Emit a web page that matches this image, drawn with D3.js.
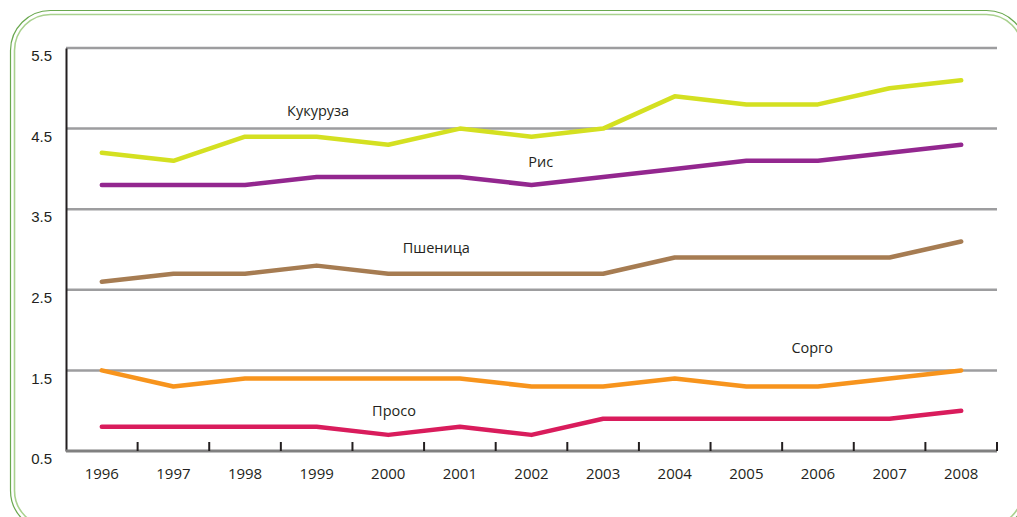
<!DOCTYPE html>
<html>
<head>
<meta charset="utf-8">
<script src="https://cdn.jsdelivr.net/npm/d3@7"></script>
<style>
  html, body { margin: 0; padding: 0; background: #fff; }
  svg { display: block; font-family: "Open Sans", "Noto Sans", sans-serif; }
</style>
</head>
<body>
<svg id="chart" width="1017" height="517"></svg>
<script>
// Years along the horizontal axis
const years = ["1996","1997","1998","1999","2000","2001","2002","2003","2004","2005","2006","2007","2008"];
const yTicks = [0.5, 1.5, 2.5, 3.5, 4.5, 5.5];

// Yield series per crop
const kukuruza = [4.2, 4.1, 4.4, 4.4, 4.3, 4.5, 4.4, 4.5, 4.9, 4.8, 4.8, 5.0, 5.1];
const ris      = [3.8, 3.8, 3.8, 3.9, 3.9, 3.9, 3.8, 3.9, 4.0, 4.1, 4.1, 4.2, 4.3];
const pshenica = [2.6, 2.7, 2.7, 2.8, 2.7, 2.7, 2.7, 2.7, 2.9, 2.9, 2.9, 2.9, 3.1];
const sorgo    = [1.5, 1.3, 1.4, 1.4, 1.4, 1.4, 1.3, 1.3, 1.4, 1.3, 1.3, 1.4, 1.5];
const proso    = [0.8, 0.8, 0.8, 0.8, 0.7, 0.8, 0.7, 0.9, 0.9, 0.9, 0.9, 0.9, 1.0];

const series = [
  { name: "Кукуруза", values: kukuruza, color: "#d4e021", label: ["1999", 4.73], offX: 0.02 },
  { name: "Рис",      values: ris,      color: "#93278f", label: ["2002", 4.09], offX: 0.13 },
  { name: "Пшеница",  values: pshenica, color: "#a67c52", label: ["2001", 3.03], offX: -0.33 },
  { name: "Сорго",    values: sorgo,    color: "#f7941d", label: ["2006", 1.79], offX: -0.08 },
  { name: "Просо",    values: proso,    color: "#d91c5c", label: ["2000", 1.0],  offX: 0.08 }
];

const svg = d3.select("#chart");
const W = 1017, H = 517;
const m = { left: 66, right: 20, top: 48, bottom: 66 };

// Decorative double rounded frame
svg.append("rect").attr("x", 10.5).attr("y", 10.5).attr("width", 1016).attr("height", 520)
  .attr("rx", 40).attr("fill", "none").attr("stroke", "#6aa84f").attr("stroke-width", 1.2);
svg.append("rect").attr("x", 14.5).attr("y", 14.5).attr("width", 1008).attr("height", 512)
  .attr("rx", 36).attr("fill", "none").attr("stroke", "#a9d18e").attr("stroke-width", 1.6);

const x = d3.scaleBand().domain(years).range([m.left, W - m.right]).padding(0);
const y = d3.scaleLinear().domain([0.5, 5.5]).range([H - m.bottom, m.top]);

// Horizontal gridlines
svg.append("g").selectAll("line").data(yTicks.slice(1)).join("line")
  .attr("x1", m.left).attr("x2", W - m.right)
  .attr("y1", d => y(d)).attr("y2", d => y(d))
  .attr("stroke", "#9d9d9f").attr("stroke-width", 2.5);

// Y axis
const yAxis = svg.append("g").attr("transform", `translate(${m.left},0)`)
  .call(d3.axisLeft(y).tickValues(yTicks).tickSize(0).tickPadding(14).tickFormat(d3.format(".1f")));
yAxis.select(".domain").attr("stroke", "#231f20").attr("stroke-width", 2);
yAxis.selectAll("text").attr("font-size", 15).attr("fill", "#231f20").attr("dy", "0.85em");

// X axis with ticks on the band boundaries
const xg = svg.append("g").attr("transform", `translate(0,${y(0.5)})`);
xg.append("line").attr("x1", m.left).attr("x2", W - m.right)
  .attr("stroke", "#808080").attr("stroke-width", 3);
xg.selectAll(".tk").data(years).join("line").attr("class", "tk")
  .attr("x1", d => x(d) + x.bandwidth()).attr("x2", d => x(d) + x.bandwidth())
  .attr("y1", 0).attr("y2", -9).attr("stroke", "#231f20").attr("stroke-width", 2);
xg.selectAll("text").data(years).join("text")
  .attr("x", d => x(d) + x.bandwidth() / 2).attr("y", 28)
  .attr("text-anchor", "middle").attr("font-size", 15).attr("fill", "#231f20")
  .text(d => d);

// Crop lines
const line = d3.line()
  .x((d, i) => x(years[i]) + x.bandwidth() / 2)
  .y(d => y(d));

svg.append("g").selectAll("path").data(series).join("path")
  .attr("d", s => line(s.values))
  .attr("fill", "none").attr("stroke", s => s.color)
  .attr("stroke-width", 4.5).attr("stroke-linecap", "round").attr("stroke-linejoin", "round");

// Crop names
svg.append("g").selectAll("text").data(series).join("text")
  .attr("x", s => x(s.label[0]) + x.bandwidth() * (0.5 + s.offX))
  .attr("y", s => y(s.label[1]))
  .attr("text-anchor", "middle").attr("dominant-baseline", "central")
  .attr("font-size", 14.5).attr("fill", "#231f20")
  .text(s => s.name);
</script>
</body>
</html>
